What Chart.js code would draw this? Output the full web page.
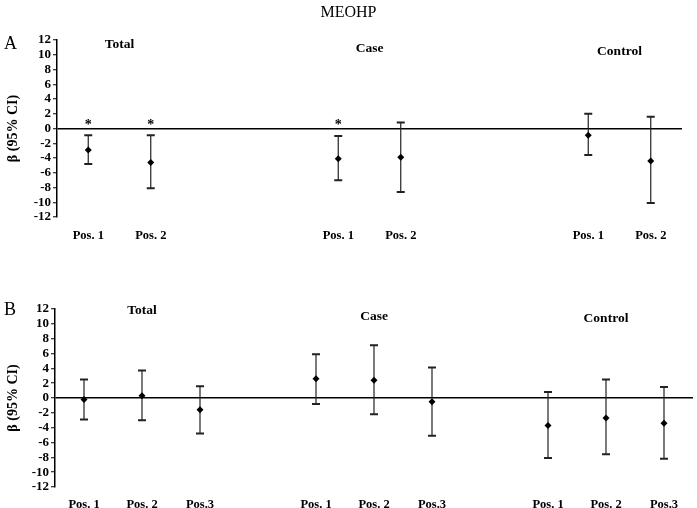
<!DOCTYPE html>
<html>
<head>
<meta charset="utf-8">
<title>MEOHP</title>
<script src="https://cdn.jsdelivr.net/npm/chart.js@4.4.0/dist/chart.umd.min.js"></script>
<style>
  body { margin: 0; background: #fff; }
  #wrap { position: relative; width: 697px; height: 508px; }
  .panel { position: absolute; left: 0; width: 697px; }
  #panelA { top: 0; height: 250px; }
  #panelB { top: 260px; height: 248px; }
</style>
</head>
<body>
<div id="wrap">
  <div class="panel" id="panelA"><canvas id="chartA" width="697" height="250"></canvas></div>
  <div class="panel" id="panelB"><canvas id="chartB" width="697" height="248"></canvas></div>
</div>
<script>
// Panel A: Pos. 1-2 by group (empty labels are gaps between groups)
const labelsA = ['Pos. 1', 'Pos. 2', '', '', 'Pos. 1', 'Pos. 2', '', '', 'Pos. 1', 'Pos. 2'];
const betaA   = [-2.9, -4.6, null, null, -4.1, -3.9, null, null, -0.9, -4.4];
const lowA    = [-4.8, -8.1, null, null, -7.0, -8.6, null, null, -3.6, -10.1];
const highA   = [-0.9, -0.9, null, null, -1.0, 0.8, null, null, 2.0, 1.6];
const starA   = [true, true, false, false, true, false, false, false, false, false];

// Panel B: Pos. 1-3 by group
const labelsB = ['Pos. 1', 'Pos. 2', 'Pos.3', '', 'Pos. 1', 'Pos. 2', 'Pos.3', '', 'Pos. 1', 'Pos. 2', 'Pos.3'];
const betaB   = [-0.2, 0.3, -1.6, null, 2.6, 2.4, -0.5, null, -3.7, -2.7, -3.4];
const lowB    = [-2.9, -3.0, -4.8, null, -0.8, -2.2, -5.1, null, -8.1, -7.6, -8.2];
const highB   = [2.5, 3.7, 1.6, null, 5.9, 7.1, 4.1, null, 0.8, 2.5, 1.5];
const starB   = labelsB.map(() => false);

const groups = ['Total', 'Case', 'Control'];
const yTicks = [-12, -10, -8, -6, -4, -2, 0, 2, 4, 6, 8, 10, 12];

Chart.defaults.font.family = "'Liberation Serif', 'Times New Roman', serif";
Chart.defaults.color = '#000';

// error bars, asterisks, group titles, panel letter
const decorations = {
    id: 'decorations',
    beforeDatasetsDraw(chart, args, opts) {
        const ctx = chart.ctx;
        const y = chart.scales.y;
        const meta = chart.getDatasetMeta(0);
        ctx.save();
        ctx.strokeStyle = '#222';
        opts.low.forEach((lo, i) => {
            if (lo === null) return;
            const x = meta.data[i].x;
            const yLo = y.getPixelForValue(lo);
            const yHi = y.getPixelForValue(opts.high[i]);
            ctx.lineWidth = 1.2;
            ctx.beginPath();
            ctx.moveTo(x, yLo);
            ctx.lineTo(x, yHi);
            ctx.stroke();
            ctx.lineWidth = 2;
            ctx.beginPath();
            ctx.moveTo(x - 4, yLo); ctx.lineTo(x + 4, yLo);
            ctx.moveTo(x - 4, yHi); ctx.lineTo(x + 4, yHi);
            ctx.stroke();
        });
        ctx.restore();
    },
    afterDraw(chart, args, opts) {
        const ctx = chart.ctx;
        const area = chart.chartArea;
        const xs = chart.scales.x;
        const y0 = chart.scales.y.getPixelForValue(0);
        const labels = chart.data.labels;
        ctx.save();
        ctx.fillStyle = '#000';
        ctx.textAlign = 'center';
        ctx.textBaseline = 'middle';

        // asterisks
        ctx.font = "bold 14px 'Liberation Serif'";
        opts.stars.forEach((s, i) => {
            if (s) ctx.fillText('*', xs.getPixelForValue(i), y0 - 3);
        });

        // group titles centred over each run of labels
        const runs = [];
        let start = null;
        labels.forEach((l, i) => {
            if (l && start === null) start = i;
            if ((!l || i === labels.length - 1) && start !== null) {
                runs.push([start, l ? i : i - 1]);
                start = null;
            }
        });
        ctx.font = "bold 13.5px 'Liberation Serif'";
        runs.forEach((r, g) => {
            const cx = (xs.getPixelForValue(r[0]) + xs.getPixelForValue(r[1])) / 2;
            ctx.fillText(groups[g], cx, area.top + opts.titleDy[g]);
        });

        // panel letter and main title
        ctx.font = "18px 'Liberation Serif'";
        ctx.textAlign = 'left';
        ctx.fillText(opts.letter, 4, area.top + opts.letterDy);
        if (opts.title) {
            ctx.textAlign = 'center';
            ctx.font = "16px 'Liberation Serif'";
            ctx.fillText(opts.title, chart.width / 2, 13);
        }
        ctx.restore();
    }
};

function makeChart(id, labels, beta, low, high, stars, cfg) {
    return new Chart(document.getElementById(id), {
        type: 'line',
        data: {
            labels: labels,
            datasets: [{
                data: beta,
                showLine: false,
                pointStyle: 'rectRot',
                pointRadius: 3.5,
                pointBackgroundColor: '#000',
                pointBorderColor: '#000',
                pointBorderWidth: 0
            }]
        },
        options: {
            responsive: false,
            animation: false,
            layout: { padding: { top: cfg.top, right: cfg.right, left: 0, bottom: 0 } },
            plugins: {
                legend: { display: false },
                tooltip: { enabled: false },
                decorations: {
                    low: low, high: high, stars: stars,
                    letter: cfg.letter, letterDy: cfg.letterDy,
                    titleDy: cfg.titleDy, title: cfg.title
                }
            },
            scales: {
                x: {
                    type: 'category',
                    offset: true,
                    grid: { display: false },
                    border: { display: false },
                    ticks: {
                        autoSkip: false,
                        maxRotation: 0,
                        padding: cfg.labelPad,
                        font: { size: 12.5, weight: 'bold' }
                    },
                    afterFit: s => { s.height = cfg.xHeight; }
                },
                y: {
                    min: yTicks[0],
                    max: yTicks[yTicks.length - 1],
                    afterBuildTicks: s => { s.ticks = yTicks.map(v => ({ value: v })); },
                    border: { display: true, color: '#000', width: 1.5 },
                    grid: {
                        color: c => (c.tick && c.tick.value === 0) ? '#000' : 'rgba(0,0,0,0)',
                        lineWidth: 1.5,
                        tickColor: '#000',
                        tickLength: 4,
                        tickWidth: 1
                    },
                    ticks: {
                        autoSkip: false,
                        padding: 2,
                        font: { size: 13, weight: 'bold' }
                    },
                    title: {
                        display: true,
                        text: 'β (95% CI)',
                        font: { size: 14, weight: 'bold' },
                        padding: { top: 5, bottom: 0 }
                    },
                    afterFit: s => { s.width = cfg.yWidth; }
                }
            }
        },
        plugins: [decorations]
    });
}

makeChart('chartA', labelsA, betaA, lowA, highA, starA, {
    top: 40, right: 15, yWidth: 57, xHeight: 33, labelPad: 3,
    letter: 'A', letterDy: 4, titleDy: [5, 9, 12], title: 'MEOHP'
});
makeChart('chartB', labelsB, betaB, lowB, highB, starB, {
    top: 49, right: 4, yWidth: 55, xHeight: 21, labelPad: 2,
    letter: 'B', letterDy: 1, titleDy: [2, 8, 10], title: null
});
</script>
</body>
</html>
